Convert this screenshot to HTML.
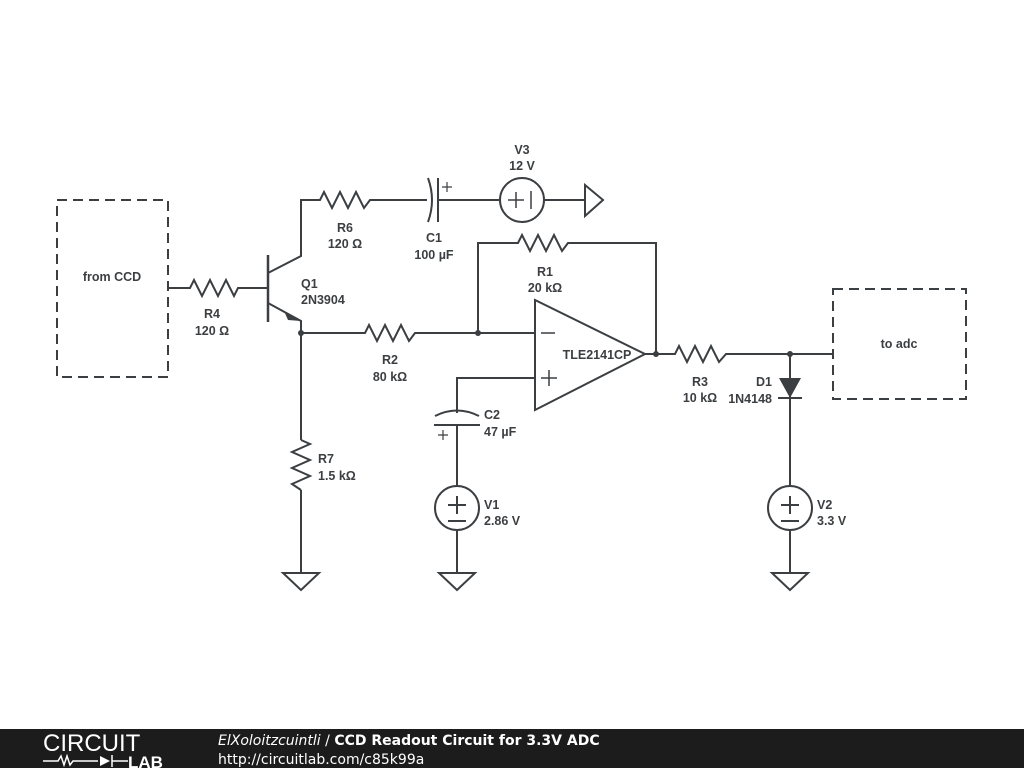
<!DOCTYPE html>
<html><head><meta charset="utf-8"><style>
html,body{margin:0;padding:0;background:#fff;width:1024px;height:768px;overflow:hidden}
svg{display:block}
text{font-family:"Liberation Sans",Arial,sans-serif;font-weight:bold;font-size:12.5px;fill:#3c3f42}
</style></head><body>
<svg width="1024" height="768" viewBox="0 0 1024 768">
<g stroke="#3c3f42" stroke-width="2" fill="none" stroke-linejoin="miter">
<rect x="57" y="200" width="111" height="177" stroke-dasharray="10,6"/>
<rect x="833" y="289" width="133" height="110" stroke-dasharray="10,6"/>
<polyline points="168,288 190,288 194,280 202,296 210,280 218,296 226,280 234,296 238,288 268,288"/>
<line x1="268" y1="255" x2="268" y2="322" stroke-width="2.5"/>
<polyline points="268,273 301,256 301,200 320,200 324,192 332,208 340,192 348,208 356,192 364,208 370,200 427,200"/>
<path d="M428,178 Q436,200 428,222"/>
<line x1="438" y1="178" x2="438" y2="222"/>
<line x1="438" y1="200" x2="500" y2="200"/>
<circle cx="522" cy="200" r="22"/>
<line x1="544" y1="200" x2="585" y2="200"/>
<polygon points="585,185 603,200 585,216"/>
<polyline points="268,303 301,321 301,440"/>
<line x1="301" y1="490" x2="301" y2="573"/>
<polyline points="301,333 365,333 369,325 377,341 385,325 393,341 401,325 409,341 415,333 535,333"/>
<polyline points="478,333 478,243 518,243 522,235 530,251 538,235 546,251 554,235 562,251 568,243 656,243 656,354"/>
<polygon points="535,300 535,410 645,354"/>
<polyline points="535,378 457,378 457,413"/>
<path d="M435,416 Q457,405 479,416"/>
<line x1="434" y1="425" x2="480" y2="425"/>
<line x1="457" y1="425" x2="457" y2="486"/>
<circle cx="457" cy="508" r="22"/>
<line x1="457" y1="530" x2="457" y2="573"/>
<polyline points="301,440 310,444 292,452 310,460 292,468 310,476 292,484 301,490"/>
<polyline points="645,354 675,354 679,346 687,362 695,346 703,362 711,346 719,362 726,354 833,354"/>
<line x1="790" y1="354" x2="790" y2="486"/>
<line x1="778" y1="398" x2="802" y2="398"/>
<circle cx="790" cy="508" r="22"/>
<line x1="790" y1="530" x2="790" y2="573"/>
<polygon points="283,573 319,573 301,590"/>
<polygon points="439,573 475,573 457,590"/>
<polygon points="772,573 808,573 790,590"/>
<path d="M448,505h18M457,496v18M448,521h18"/>
<path d="M781,505h18M790,496v18M781,521h18"/>
<path d="M508,200h16M516,192v16M531,191v18" stroke-width="1.5"/>
<path d="M541,333h14M541,378h16M549,370v16" stroke-width="1.5"/>
<path d="M442,187h10M447,182v10M438,435h10M443,430v10" stroke-width="1.2"/>
</g>
<g fill="#3c3f42">
<polygon points="779,378 801,378 790,398"/>
<polygon points="284,311 301,321 288,320"/>
<circle cx="301" cy="333" r="3"/>
<circle cx="478" cy="333" r="3"/>
<circle cx="656" cy="354" r="3"/>
<circle cx="790" cy="354" r="3"/>
</g>
<g text-anchor="middle">
<text x="112" y="281">from CCD</text>
<text x="899" y="348">to adc</text>
<text x="212" y="318">R4</text><text x="212" y="335">120 Ω</text>
<text x="345" y="232">R6</text><text x="345" y="248">120 Ω</text>
<text x="434" y="242">C1</text><text x="434" y="259">100 µF</text>
<text x="522" y="154">V3</text><text x="522" y="170">12 V</text>
<text x="545" y="276">R1</text><text x="545" y="292">20 kΩ</text>
<text x="390" y="364">R2</text><text x="390" y="381">80 kΩ</text>
<text x="597" y="359">TLE2141CP</text>
<text x="700" y="386">R3</text><text x="700" y="402">10 kΩ</text>
</g>
<text x="301" y="288">Q1</text><text x="301" y="304">2N3904</text>
<text x="484" y="419">C2</text><text x="484" y="436">47 µF</text>
<text x="318" y="463">R7</text><text x="318" y="480">1.5 kΩ</text>
<text x="484" y="509">V1</text><text x="484" y="525">2.86 V</text>
<text x="817" y="509">V2</text><text x="817" y="525">3.3 V</text>
<text x="772" y="386" text-anchor="end">D1</text><text x="772" y="403" text-anchor="end">1N4148</text>
<rect x="0" y="729" width="1024" height="39" fill="#1c1c1c"/>
<text x="43" y="751" style="font-weight:normal;font-size:24px;fill:#fff;letter-spacing:0px" font-family="DejaVu Sans ExtraLight, Liberation Sans, sans-serif">CIRCUIT</text>
<g stroke="#fff" stroke-width="1.5" fill="none"><polyline points="43,761 58,761 61,756 64,765 67,756 70,765 73,761 98,761"/><line x1="112" y1="755" x2="112" y2="767"/><line x1="112" y1="761" x2="128" y2="761"/></g>
<polygon points="100,756 100,766 110,761" fill="#fff"/>
<text x="128" y="768" style="font-size:17px;fill:#fff;font-weight:900">LAB</text>
<text x="218" y="745" style="font-size:14px;fill:#fff;font-weight:normal;font-family:'DejaVu Sans',sans-serif"><tspan font-style="italic">ElXoloitzcuintli</tspan> / <tspan font-weight="bold">CCD Readout Circuit for 3.3V ADC</tspan></text>
<text x="218" y="764" style="font-size:14px;fill:#fff;font-weight:normal;font-family:'DejaVu Sans',sans-serif">http://circuitlab.com/c85k99a</text>
</svg>
</body></html>
